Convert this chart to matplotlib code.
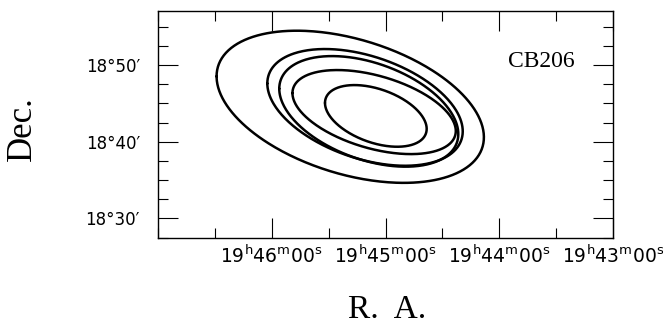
import numpy as np
import matplotlib
matplotlib.use("Agg")
import matplotlib.pyplot as plt
from matplotlib.ticker import FixedLocator, MultipleLocator

# ---- data ----
# RA in minutes of time (hour = 19h), Dec in arcmin above 18 deg
ra_major = [46, 45, 44, 43]
ra_labels = [r"$\mathregular{19^{h}46^{m}00^{s}}$", r"$\mathregular{19^{h}45^{m}00^{s}}$",
             r"$\mathregular{19^{h}44^{m}00^{s}}$", r"$\mathregular{19^{h}43^{m}00^{s}}$"]
dec_major = [30, 40, 50]
dec_labels = ["18°30′", "18°40′", "18°50′"]

# contour ellipses: centre, half extents and RA/Dec correlation
contour_ra_center = [45.31, 45.18, 45.147, 45.10, 45.085]
contour_dec_center = [44.56, 44.48, 43.96, 43.87, 43.37]
contour_ra_half = [1.175, 0.859, 0.787, 0.718, 0.447]
contour_dec_half = [9.92, 7.61, 7.21, 5.48, 4.02]
contour_corr = [0.40, 0.41, 0.41, 0.45, 0.42]

source_name = "CB206"

# ---- figure ----
W, H = 663, 324
fig = plt.figure(figsize=(W / 100, H / 100), dpi=100)
ax = fig.add_axes([158 / W, 1 - 238 / H, 455 / W, 227 / H])

t = np.linspace(0, 2 * np.pi, 400)
for cr, cd, wr, wd, rho in zip(contour_ra_center, contour_dec_center,
                               contour_ra_half, contour_dec_half, contour_corr):
    phi = np.arccos(rho)
    ax.plot(cr + wr * np.cos(t), cd + wd * np.cos(t - phi), color="black", lw=1.8,
            solid_joinstyle="round", solid_capstyle="round")

ax.set_xlim(47, 43)
ax.set_ylim(27.45, 57.05)

ax.xaxis.set_major_locator(FixedLocator(ra_major))
ax.set_xticklabels(ra_labels)
ax.xaxis.set_minor_locator(MultipleLocator(0.5))
ax.yaxis.set_major_locator(FixedLocator(dec_major))
ax.set_yticklabels(dec_labels)
ax.yaxis.set_minor_locator(MultipleLocator(2.5))

ax.tick_params(which="both", direction="in", top=True, right=True, width=0.8, color="black")
ax.tick_params(which="major", length=14.4)
ax.tick_params(which="minor", length=7.2)
ax.tick_params(axis="x", which="major", labelsize=13.5, pad=5)
ax.tick_params(axis="y", which="major", labelsize=12, pad=13)
for lab in ax.get_xticklabels() + ax.get_yticklabels():
    lab.set_fontfamily("DejaVu Sans")
for s in ax.spines.values():
    s.set_linewidth(1.0)

fig.text(541 / W, 1 - 66.7 / H, source_name, ha="center", va="baseline",
         fontsize=17, family="Liberation Serif")
fig.text(22 / W, 1 - 129 / H, "Dec.", rotation=90, ha="center", va="center",
         fontsize=25, family="Liberation Serif")
fig.text(387 / W, 1 - 318 / H, "R.  A.", ha="center", va="baseline",
         fontsize=24, family="Liberation Serif")

fig.savefig("out.png", dpi=100)
